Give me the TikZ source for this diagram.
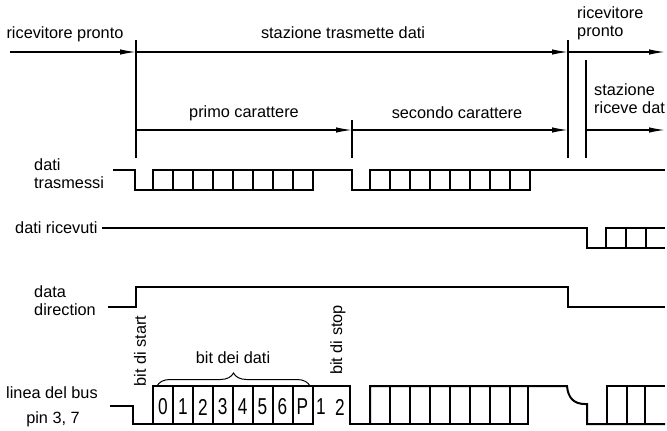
\documentclass[tikz,border=0pt]{standalone}
\usepackage{fontspec}
\setmainfont{Liberation Sans}
\newfontfamily\bitfont[FakeStretch=0.75]{Liberation Sans}
\usetikzlibrary{arrows.meta,decorations.pathreplacing}

\begin{document}
\begin{tikzpicture}[x=1pt,y=-1pt,
  font=\fontsize{16.3}{18}\selectfont,
  every node/.style={inner sep=0pt},
  sig/.style={line width=2pt},
  tmark/.style={line width=1.5pt},
  span/.style={line width=1.3pt,-{Latex[length=16pt,width=5.5pt]}},
  bitno/.style={font=\bitfont\fontsize{23}{23}\selectfont}]
 \useasboundingbox (0,0) rectangle (667,431);
 % time marks
 \coordinate (rdy) at (10,52);
 \coordinate (tx) at (136,52);
 \coordinate (rx) at (568,52);
 \coordinate (topend) at (665,52);
 \coordinate (ch1) at (136,130);
 \coordinate (ch2) at (352,130);
 \coordinate (ch3) at (568,130);
 \coordinate (rxd) at (586,130);
 \coordinate (chend) at (665,130);
 \draw[tmark] (136,40) -- (136,158);
 \draw[tmark] (352,120) -- (352,158);
 \draw[tmark] (568,40) -- (568,158);
 \draw[tmark] (586,60) -- (586,158);
 \draw[span] (rdy) -- (tx);
 \draw[span] (tx) -- (rx);
 \draw[span] (rx) -- (topend);
 \draw[span] (ch1) -- (ch2);
 \draw[span] (ch2) -- (ch3);
 \draw[span] (rxd) -- (chend);
 \node (lrdy) at (65,34) {ricevitore pronto};
 \node (ltx) at (343,33) {stazione trasmette dati};
 \node[align=left,anchor=west] (lrx) at (577,23) {ricevitore\\pronto};
 \node[align=left,anchor=west] (lrxd) at (594,99) {stazione\\riceve dat};
 \node (lc1) at (244,113) {primo carattere};
 \node (lc2) at (457,113) {secondo carattere};
 % signal names
 \node[align=left,anchor=west] (ltxd) at (34,174) {dati\\trasmessi};
 \node[anchor=west] (lrxdat) at (15,228) {dati ricevuti};
 \node[align=left,anchor=west] (ldir) at (34,301) {data\\direction};
 \node[anchor=west] (lbus) at (6,393) {linea del bus};
 \node (lpin) at (53,419) {pin 3, 7};
 % dati trasmessi
 \draw[sig] (113,170) -| (135,190) -- (313,190) -- (313,170);
 \draw[sig] (153,190) |- (352,170) |- (530,190) |- (665,170);
 \draw[sig] (370,190) |- (530,170);
 \foreach \x in {173,193,...,293,390,410,...,510}
   \draw[sig] (\x,170) -- (\x,190);
 % dati ricevuti
 \draw[sig] (102,228) -| (587,248) -- (665,248);
 \draw[sig] (606,248) |- (665,228);
 \foreach \x in {626,646}
   \draw[sig] (\x,228) -- (\x,248);
 % data direction
 \draw[sig] (108,307) -| (136,287) -| (568,307) -- (665,307);
 % linea del bus
 \draw[sig] (110,406) -| (133,424) -- (313,424) -- (313,386);
 \draw[sig] (153,424) |- (350,386) |- (528,424) -- (528,386);
 \draw[sig] (370,424) |- (567,386) .. controls (568,398) and (574,404) .. (585,404)
   -- (587,404) -- (587,424) -- (665,424);
 \draw[sig] (607,424) |- (665,386);
 \foreach \x in {173,193,...,293,390,410,...,510,627,645}
   \draw[sig] (\x,386) -- (\x,424);
 \foreach \b [count=\i from 0] in {0,1,2,3,4,5,6,P}
   \node[bitno] (bit\i) at (163+19.9*\i,407) {\b};
 \node[bitno] (stop1) at (321,407) {1};
 \node[bitno] (stop2) at (340,407) {2};
 \draw[line width=1pt,decorate,decoration={brace,amplitude=13pt}] (157,386) -- (310,386);
 \node (ldata) at (233,358) {bit dei dati};
 \node[rotate=90] (lstart) at (140,351) {bit di start};
 \node[rotate=90] (lstop) at (338,340) {bit di stop};
\end{tikzpicture}
\end{document}
